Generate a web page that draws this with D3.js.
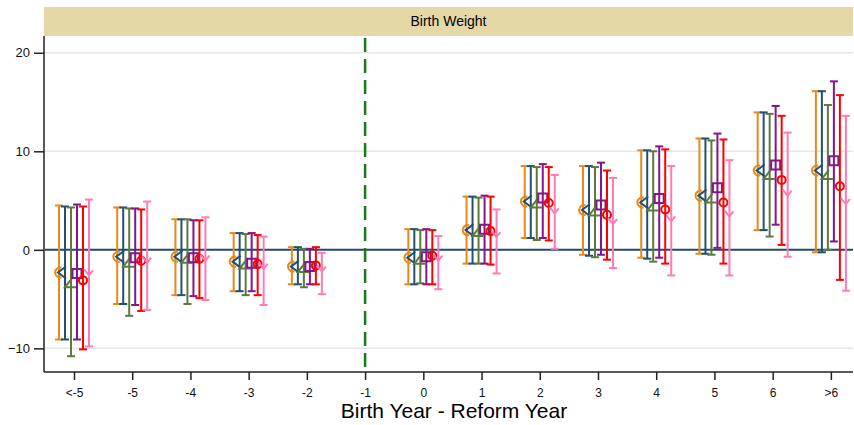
<!DOCTYPE html>
<meta charset="utf-8">
<style>
    body { margin: 0; background: #fff; }
    text { font-family: "Liberation Sans", Arial, sans-serif; }
</style>
<svg width="854" height="425"></svg>
<script src="https://d3js.org/d3.v7.min.js"></script>
<script>

    var categories = ["<-5", "-5", "-4", "-3", "-2", "-1", "0", "1", "2", "3", "4", "5", "6", ">6"];
    var seriesNames = ["s1", "s2", "s3", "s4", "s5", "s6"];
    var seriesColors = ["#e8891a", "#24506f", "#5e7a3b", "#82168a", "#ff0000", "#ff7ab8"];
    var yTicks = [20, 10, 0, -10];

    // point estimates per series, one value per category (null = reference year)
    var est = [
        [-2.3, -0.7, -0.7, -1.2, -1.7, null, -0.8, 2.0, 4.9, 4.05, 4.8, 5.5, 8.05, 8.05],
        [-2.3, -0.7, -0.7, -1.2, -1.7, null, -0.8, 2.0, 4.9, 4.05, 4.8, 5.5, 8.05, 8.05],
        [-3.4, -1.3, -0.9, -1.5, -1.85, null, -1.0, 1.8, 4.7, 3.9, 4.4, 5.2, 7.6, 7.6],
        [-2.4, -0.8, -0.8, -1.35, -1.7, null, -0.7, 2.1, 5.25, 4.55, 5.2, 6.3, 8.6, 9.05],
        [-3.1, -1.1, -0.9, -1.45, -1.6, null, -0.6, 1.9, 4.75, 3.55, 4.1, 4.8, 7.1, 6.45],
        [-2.5, -1.2, -1.0, -1.8, -2.1, null, -1.0, 1.4, 3.8, 2.7, 3.0, 3.5, 5.6, 4.75]
    ];
    var lower = [
        [-9.1, -5.5, -4.6, -4.2, -3.5, null, -3.5, -1.4, 1.2, -0.5, -0.8, -0.4, 2.0, -0.25],
        [-9.1, -5.5, -4.6, -4.2, -3.5, null, -3.5, -1.4, 1.2, -0.6, -0.9, -0.4, 2.0, -0.25],
        [-10.8, -6.7, -5.5, -4.6, -3.8, null, -3.4, -1.4, 1.0, -0.75, -1.2, -0.5, 1.35, 0.0],
        [-9.1, -5.6, -4.7, -4.2, -3.5, null, -3.5, -1.4, 1.2, -0.5, -0.8, 0.2, 2.55, 0.85],
        [-10.1, -6.2, -4.9, -4.6, -3.5, null, -3.5, -1.5, 0.95, -1.0, -1.4, -1.4, 0.5, -3.05],
        [-9.8, -6.1, -5.1, -5.6, -4.5, null, -4.0, -2.4, 0.1, -1.85, -2.6, -2.6, -0.7, -4.15]
    ];
    var upper = [
        [4.5, 4.3, 3.1, 1.7, 0.27, null, 2.1, 5.4, 8.5, 8.5, 10.1, 11.3, 13.95, 16.1],
        [4.4, 4.3, 3.1, 1.7, 0.27, null, 2.1, 5.4, 8.5, 8.5, 10.1, 11.3, 13.95, 16.1],
        [4.3, 4.2, 3.1, 1.6, 0.1, null, 2.0, 5.3, 8.4, 8.4, 10.0, 11.1, 13.8, 14.7],
        [4.6, 4.2, 3.0, 1.7, 0.1, null, 2.1, 5.5, 8.7, 8.85, 10.5, 11.8, 14.6, 17.1],
        [4.4, 4.1, 3.0, 1.5, 0.27, null, 2.0, 5.4, 8.4, 8.05, 10.2, 11.2, 13.6, 15.7],
        [5.1, 4.9, 3.3, 1.35, -0.3, null, 1.4, 4.1, 7.6, 7.3, 8.5, 9.1, 11.9, 13.6]
    ];

    var svg = d3.select("svg");

    var x = d3.scaleLinear().domain([-0.515, 13.38]).range([44, 853]);
    var y = d3.scaleLinear().domain([-12.4, 21.5]).range([372, 38]);
    var offset = d3.scalePoint().domain(seriesNames).range([-15, 15]);

    // header strip
    svg.append("rect")
            .attr("x", 44).attr("y", 7)
            .attr("width", 809).attr("height", 29)
            .attr("fill", "#e3d8a6");
    svg.append("text")
            .attr("x", (44 + 853) / 2).attr("y", 26)
            .attr("text-anchor", "middle")
            .attr("font-size", 14)
            .text("Birth Weight");

    // grid lines
    svg.append("g").selectAll("line")
            .data(yTicks.filter(function(d) { return d !== 0; }))
            .enter().append("line")
            .attr("x1", 45).attr("x2", 853)
            .attr("y1", function(d) { return y(d); })
            .attr("y2", function(d) { return y(d); })
            .attr("stroke", "#e6e6e6")
            .attr("stroke-width", 1.5);

    // zero line
    svg.append("line")
            .attr("x1", 45).attr("x2", 853)
            .attr("y1", y(0)).attr("y2", y(0))
            .attr("stroke", "#1f4a6b")
            .attr("stroke-width", 2);

    // reform year line
    svg.append("line")
            .attr("x1", x(5)).attr("x2", x(5))
            .attr("y1", 38).attr("y2", 372)
            .attr("stroke", "#1a7a1a")
            .attr("stroke-width", 2.5)
            .attr("stroke-dasharray", "14,7");

    // axes
    var yAxis = d3.axisLeft(y).tickValues(yTicks).tickSize(10).tickPadding(4);
    var gy = svg.append("g").attr("transform", "translate(44,0)").call(yAxis);
    gy.select(".domain").attr("d", "M0," + 36 + "V" + 372).attr("stroke", "#222").attr("stroke-width", 1.5);
    gy.selectAll(".tick line").attr("stroke", "#222").attr("stroke-width", 1.5);
    gy.selectAll(".tick text").attr("font-size", 13).attr("fill", "#111")
            .attr("font-family", "'Liberation Sans', Arial, sans-serif");

    var xAxis = d3.axisBottom(x).tickValues(d3.range(categories.length))
            .tickFormat(function(i) { return categories[i]; })
            .tickSize(8).tickPadding(8);
    var gx = svg.append("g").attr("transform", "translate(0,372)").call(xAxis);
    gx.select(".domain").attr("d", "M44,0H853").attr("stroke", "#222").attr("stroke-width", 1.5);
    gx.selectAll(".tick line").attr("stroke", "#222").attr("stroke-width", 1.5);
    gx.selectAll(".tick text").attr("font-size", 12).attr("fill", "#111")
            .attr("font-family", "'Liberation Sans', Arial, sans-serif");

    svg.append("text")
            .attr("x", 454).attr("y", 418)
            .attr("text-anchor", "middle")
            .attr("font-size", 21)
            .text("Birth Year - Reform Year");

    // marker shapes, drawn centred on (0,0)
    var markerPath = [
        "M2.5,-4.8A5,5 0 1,0 2.5,4.8",                 // open circle, left part
        "M1,-6L-7,0L1,6",                              // diamond, left part
        "M1,-5L-6,4H5",                                // triangle
        "M-4.5,-4.5H4.5V4.5H-4.5Z",                    // square
        "M-4,0A4,4 0 1,0 4,0A4,4 0 1,0 -4,0",          // circle
        "M-5,-5L0,1L4,-4"                              // v
    ];

    var capHalf = 4;

    seriesNames.forEach(function(s, si) {
        var rows = categories.map(function(c, i) {
            return {i: i, lo: lower[si][i], mid: est[si][i], hi: upper[si][i]};
        }).filter(function(d) { return d.mid !== null; });

        var g = svg.append("g")
                .attr("stroke", seriesColors[si])
                .attr("stroke-width", 2)
                .attr("fill", "none");

        var cx = function(d) { return x(d.i) + offset(s); };

        g.selectAll(".ci").data(rows).enter().append("line")
                .attr("x1", cx).attr("x2", cx)
                .attr("y1", function(d) { return y(d.lo); })
                .attr("y2", function(d) { return y(d.hi); });

        g.selectAll(".caplo").data(rows).enter().append("line")
                .attr("x1", function(d) { return cx(d) - capHalf; })
                .attr("x2", function(d) { return cx(d) + capHalf; })
                .attr("y1", function(d) { return y(d.lo); })
                .attr("y2", function(d) { return y(d.lo); });

        g.selectAll(".caphi").data(rows).enter().append("line")
                .attr("x1", function(d) { return cx(d) - capHalf; })
                .attr("x2", function(d) { return cx(d) + capHalf; })
                .attr("y1", function(d) { return y(d.hi); })
                .attr("y2", function(d) { return y(d.hi); });

        g.selectAll(".mk").data(rows).enter().append("path")
                .attr("d", markerPath[si])
                .attr("transform", function(d) { return "translate(" + cx(d) + "," + y(d.mid) + ")"; });
    });

</script>
